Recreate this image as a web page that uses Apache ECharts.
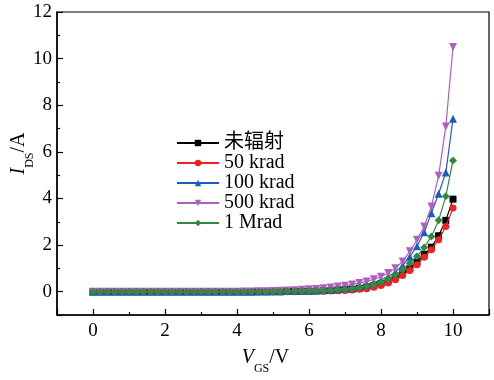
<!DOCTYPE html>
<html><head><meta charset="utf-8">
<script src="https://cdn.jsdelivr.net/npm/echarts@6/dist/echarts.min.js"></script>
<style>html,body{margin:0;padding:0;background:#fff}#c{width:494px;height:380px}</style>
</head><body><div id="c"></div>
<script>
// V_GS from 0 to 10 V, step 0.2 V
const vgs = [0,0.2,0.4,0.6,0.8,1,1.2,1.4,1.6,1.8,2,2.2,2.4,2.6,2.8,3,3.2,3.4,3.6,3.8,4,4.2,4.4,4.6,4.8,5,5.2,5.4,5.6,5.8,6,6.2,6.4,6.6,6.8,7,7.2,7.4,7.6,7.8,8,8.2,8.4,8.6,8.8,9,9.2,9.4,9.6,9.8,10];
const seriesNames = ['未辐射','50 krad','100 krad','500 krad','1 Mrad'];
const unirradiated = [0,0,0,0,0,0,0,0,0,0,0,0,0,0,0,0,0,0,0,0,0,0,0,0,0,0,0,0.01,0.01,0.02,0.02,0.03,0.04,0.05,0.07,0.09,0.11,0.15,0.20,0.26,0.35,0.47,0.62,0.79,1.00,1.28,1.60,1.91,2.40,3.06,3.97];
const krad50 = [0,0,0,0,0,0,0,0,0,0,0,0,0,0,0,0,0,0,0,0,0,0,0,0,0,0,0,0,0,0.01,0.01,0.02,0.02,0.03,0.04,0.05,0.07,0.10,0.13,0.19,0.27,0.37,0.51,0.69,0.91,1.16,1.48,1.80,2.23,2.80,3.59];
const krad100 = [0,0,0,0,0,0,0,0,0,0,0,0,0,0,0,0,0,0,0,0,0,0,0,0.01,0.01,0.02,0.02,0.03,0.03,0.04,0.05,0.06,0.08,0.10,0.12,0.15,0.19,0.24,0.30,0.39,0.50,0.65,0.85,1.12,1.50,1.95,2.55,3.37,4.20,5.11,7.42];
const krad500 = [0,0,0,0,0,0,0,0,0,0,0,0,0,0,0,0,0,0,0,0,0,0.01,0.01,0.02,0.02,0.03,0.04,0.05,0.06,0.08,0.10,0.12,0.15,0.18,0.22,0.26,0.31,0.37,0.44,0.53,0.64,0.80,1.01,1.30,1.73,2.23,2.80,3.66,4.97,7.09,10.50];
const mrad1 = [0,0,0,0,0,0,0,0,0,0,0,0,0,0,0,0,0,0,0,0,0,0,0,0,0,0.01,0.01,0.02,0.02,0.03,0.03,0.04,0.05,0.07,0.09,0.11,0.14,0.18,0.24,0.31,0.41,0.55,0.73,0.94,1.22,1.52,1.90,2.37,3.06,4.09,5.63];

const FONT = "'Liberation Serif','Times New Roman','Noto Sans CJK SC',serif";
const seriesData = [unirradiated, krad50, krad100, krad500, mrad1];
const colors = ['#000000','#ee2222','#1a5cc0','#b05ec0','#338a3e'];
const symbols = ['rect','circle','triangle','triangle','diamond'];
const rot = [0,0,0,180,0];
const sizes = [7,7,8,8,8];

const chart = echarts.init(document.getElementById('c'), null, {renderer:'canvas'});
chart.setOption({
  animation:false,
  backgroundColor:'#fff',
  grid:{left:57,right:5,top:12,bottom:65,containLabel:false,outerBoundsMode:'none',show:true,borderColor:'#000',borderWidth:1.2,backgroundColor:'transparent'},
  legend:{
    left:176, top:133, padding:0, orient:'vertical', itemWidth:42, itemHeight:8, itemGap:0,
    data:seriesNames,
    textStyle:{fontFamily:FONT,fontSize:20,lineHeight:19.3,color:'#000'}
  },
  xAxis:{
    type:'value', min:-1, max:11, splitNumber:6,
    name:'{i|V}{s|GS}{n|/V}', nameLocation:'middle', nameGap:32, nameMoveOverlap:false,
    nameTextStyle:{fontFamily:FONT,color:'#000',padding:[0,15,0,0],
      rich:{i:{fontFamily:FONT,fontSize:20,fontStyle:'italic',lineHeight:22},
            s:{fontFamily:FONT,fontSize:12,verticalAlign:'bottom',lineHeight:14,padding:[0,0,-6,0]},
            n:{fontFamily:FONT,fontSize:20,lineHeight:22}}},
    axisLine:{show:true,onZero:false,lineStyle:{color:'#000',width:1.5}},
    axisTick:{show:true,inside:true,length:6,lineStyle:{color:'#000',width:1.2}},
    minorTick:{show:true,splitNumber:2,length:3,lineStyle:{color:'#000',width:1.2}},
    axisLabel:{fontFamily:FONT,fontSize:19,color:'#000',margin:7,showMinLabel:false,showMaxLabel:false},
    splitLine:{show:false}
  },
  yAxis:{
    type:'value', min:-1, max:12, splitNumber:6,
    name:'{i|I}{s|DS}{n|/A}', nameLocation:'middle', nameGap:27, nameRotate:90, nameMoveOverlap:false,
    nameTextStyle:{fontFamily:FONT,color:'#000',padding:[0,0,0,20],
      rich:{i:{fontFamily:FONT,fontSize:20,fontStyle:'italic',lineHeight:22},
            s:{fontFamily:FONT,fontSize:12,verticalAlign:'bottom',lineHeight:14,padding:[0,0,-6,0]},
            n:{fontFamily:FONT,fontSize:20,lineHeight:22}}},
    axisLine:{show:true,onZero:false,lineStyle:{color:'#000',width:1.5}},
    axisTick:{show:true,inside:true,length:6,lineStyle:{color:'#000',width:1.2}},
    minorTick:{show:true,splitNumber:2,length:3,lineStyle:{color:'#000',width:1.2}},
    axisLabel:{fontFamily:FONT,fontSize:19,color:'#000',margin:5,showMinLabel:false},
    splitLine:{show:false}
  },
  series: seriesNames.map((n,k)=>({
    name:n, type:'line',
    data: vgs.map((v,i)=>[v, seriesData[k][i]]),
    symbol:symbols[k], symbolRotate:rot[k], symbolSize:sizes[k],
    showAllSymbol:true,
    itemStyle:{color:colors[k]},
    lineStyle:{color:colors[k],width:1.2},
    z: 2+k
  }))
});
</script></body></html>
